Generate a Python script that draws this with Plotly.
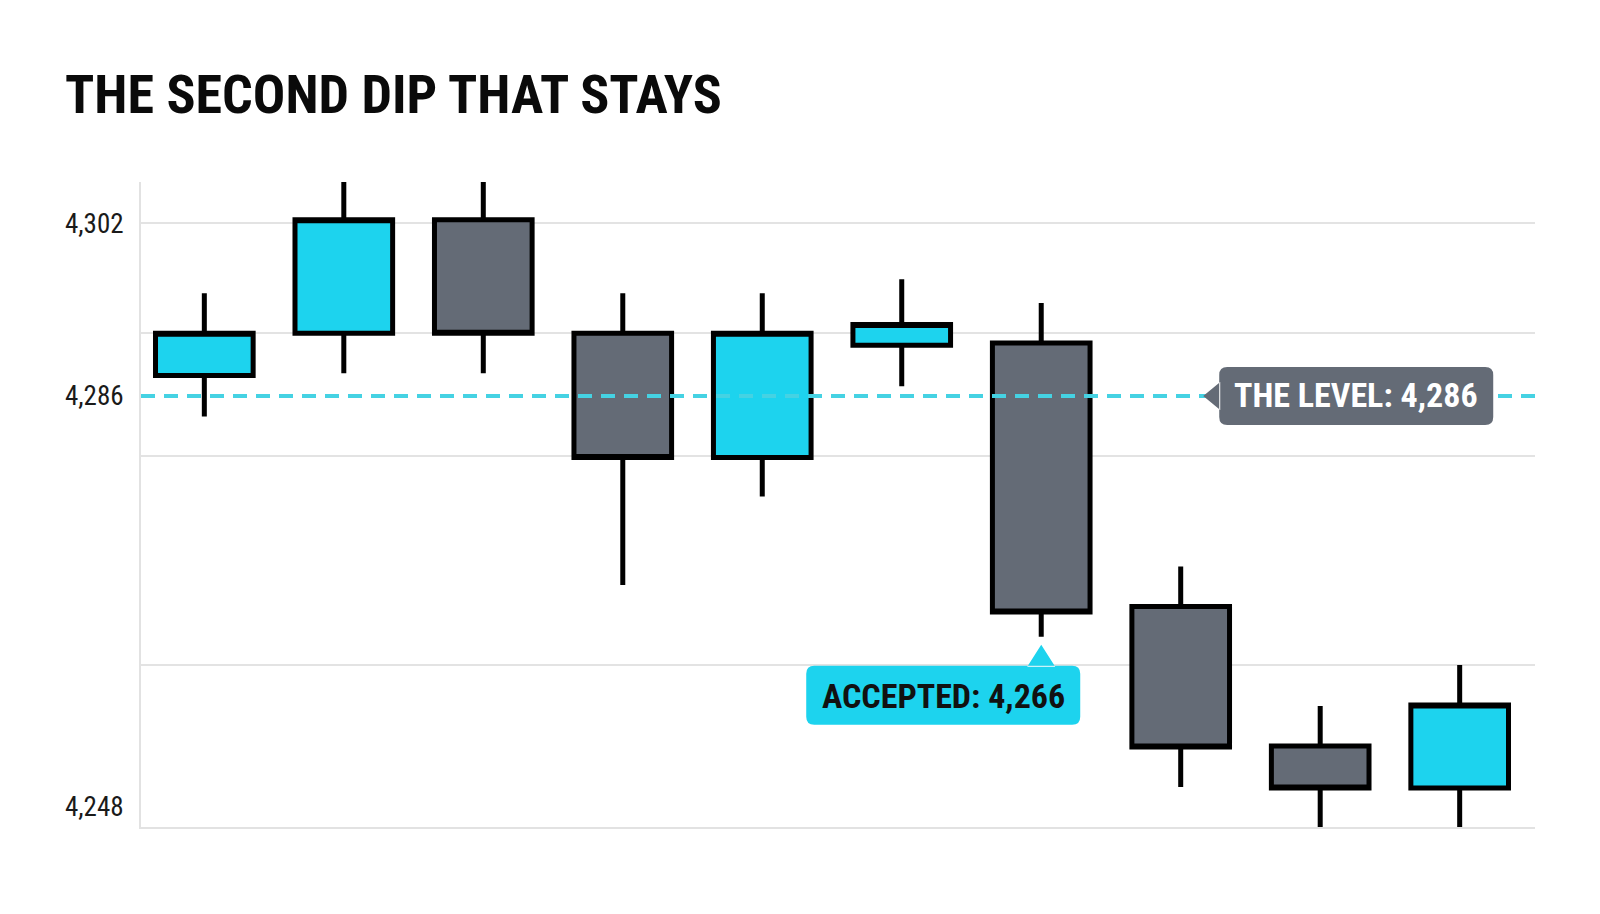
import plotly.graph_objects as go

# dữ liệu nến
sessions = list(range(1, 11))
opens = [4287.9, 4291.8, 4302.3, 4291.8, 4280.3, 4290.7, 4290.9, 4266.5, 4253.6, 4249.7]
highs = [4295.5, 4305.8, 4305.8, 4295.5, 4295.5, 4296.8, 4294.6, 4270.2, 4257.3, 4261.1]
lows = [4284.1, 4288.1, 4288.1, 4268.5, 4276.7, 4286.9, 4263.7, 4249.8, 4246.1, 4246.1]
closes = [4291.8, 4302.3, 4291.8, 4280.3, 4291.8, 4292.6, 4266.0, 4253.5, 4249.7, 4257.4]

tick_vals = [4248, 4286, 4302]
grid_vals = [4261.1, 4280.4, 4291.8, 4302.05]

level = 4286
accepted = 4266
accepted_session = 7

CYAN = "#1dd3ee"
GRAY = "#646b76"
FONT = "Roboto Condensed, Roboto, sans-serif"


def bubble(x0, y0, x1, y1, r, tail):
    # hộp bo góc + mũi nhọn, toạ độ pixel
    pts = [
        f"M {x0 + r},{y1}", f"L {x1 - r},{y1}", f"Q {x1},{y1} {x1},{y1 - r}",
        f"L {x1},{y0 + r}", f"Q {x1},{y0} {x1 - r},{y0}", f"L {x0 + r},{y0}",
        f"Q {x0},{y0} {x0},{y0 + r}", f"L {x0},{y1 - r}", f"Q {x0},{y1} {x0 + r},{y1}", "Z",
    ]
    return " ".join(pts) + " " + tail


fig = go.Figure()

fig.add_trace(go.Candlestick(
    x=sessions, open=opens, high=highs, low=lows, close=closes,
    increasing=dict(fillcolor=CYAN, line=dict(color="#000000", width=5)),
    decreasing=dict(fillcolor=GRAY, line=dict(color="#000000", width=5)),
    showlegend=False, hoverinfo="skip",
))

# đường mức
fig.add_shape(type="line", xref="paper", x0=0, x1=1, yref="y", y0=level, y1=level,
              line=dict(color="#45d2e3", width=4, dash="14px,9px"), layer="above")

# nhãn THE LEVEL
tip_x = 0.762
fig.add_shape(type="path", xref="paper", yref="y", xsizemode="pixel", ysizemode="pixel",
              xanchor=tip_x, yanchor=level,
              path=bubble(16, -29, 290, 29, 8, "M 0,0 L 17,-14 L 17,14 Z"),
              fillcolor=GRAY, line=dict(width=0), layer="above")
fig.add_annotation(xref="paper", yref="y", x=tip_x, y=level, xshift=153, yshift=1,
                   xanchor="center", yanchor="middle",
                   text="<b>THE LEVEL: 4,286</b>", showarrow=False,
                   font=dict(family=FONT, size=34, color="#ffffff"))

# nhãn ACCEPTED
fig.add_shape(type="path", xref="x", yref="y", xsizemode="pixel", ysizemode="pixel",
              xanchor=accepted_session, yanchor=lows[accepted_session - 1],
              path=bubble(-235, -88, 39, -29, 8, "M 0,-8 L 14,-30 L -14,-30 Z"),
              fillcolor=CYAN, line=dict(width=0), layer="above")
fig.add_annotation(xref="x", yref="y", x=accepted_session, y=lows[accepted_session - 1],
                   xshift=-98, yshift=-59, xanchor="center", yanchor="middle",
                   text=f"<b>ACCEPTED: {accepted:,}</b>", showarrow=False,
                   font=dict(family=FONT, size=34, color="#111111"))

fig.update_layout(
    width=1600, height=914,
    paper_bgcolor="white", plot_bgcolor="white",
    boxgap=0.3, boxgroupgap=0,
    margin=dict(l=133, r=73, t=174, b=95),
    title=dict(text="<b>THE SECOND DIP THAT STAYS</b>", xref="container", yref="container",
               x=57 / 1600, xanchor="left", y=1 - 86 / 914, yanchor="middle",
               font=dict(family=FONT, size=54, color="#0a0a0a")),
    xaxis=dict(range=[0.546, 10.54], showticklabels=False, showgrid=False, zeroline=False,
               showline=True, linecolor="#e2e2e2", linewidth=2, ticks="",
               rangeslider=dict(visible=False)),
    yaxis=dict(range=[4246.1, 4305.8], tickvals=tick_vals, tickformat=",d",
               showgrid=False, zeroline=False, showline=True, linecolor="#e2e2e2", linewidth=2,
               ticks="", ticklabelstandoff=10,
               tickfont=dict(family=FONT, size=27, color="#1a1a1a"),
               minor=dict(tickmode="array", tickvals=grid_vals, showgrid=True,
                          gridcolor="#e3e3e3", gridwidth=2, ticks="")),
)

fig.write_html("out.html")
